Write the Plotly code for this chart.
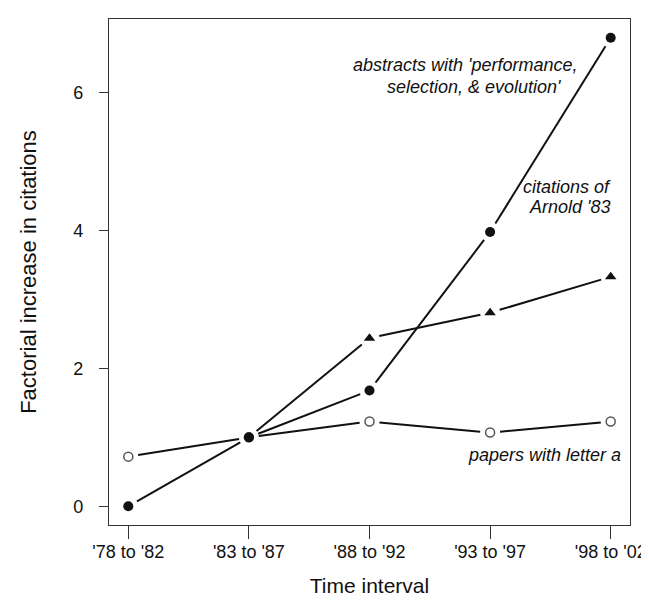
import plotly.graph_objects as go

intervals = ["'78 to '82", "'83 to '87", "'88 to '92", "'93 to '97", "'98 to '02"]
abstracts = [0.0, 1.0, 1.68, 3.98, 6.80]
arnold = [None, 1.0, 2.44, 2.81, 3.33]
letter_a = [0.72, 1.0, 1.23, 1.07, 1.23]

FONT = "Liberation Sans, Arial, sans-serif"
INK = "#111111"

W, H = 649, 602
M = dict(l=101, r=24, t=10, b=85)
XR = [-0.16, 4.16]
YR = [-0.272, 7.072]
GAP = 10  # px gap between line ends and point centres (R type="b")

xpos = list(range(len(intervals)))
sx = (W - M["l"] - M["r"]) / (XR[1] - XR[0])
sy = (H - M["t"] - M["b"]) / (YR[1] - YR[0])


def gapped(xs, ys):
    """Segments between consecutive points, trimmed by GAP px at both ends."""
    gx, gy = [], []
    for i in range(len(xs) - 1):
        if ys[i] is None or ys[i + 1] is None:
            continue
        dx = (xs[i + 1] - xs[i]) * sx
        dy = (ys[i + 1] - ys[i]) * sy
        d = (dx * dx + dy * dy) ** 0.5
        f = GAP / d
        gx += [xs[i] + (xs[i + 1] - xs[i]) * f, xs[i + 1] - (xs[i + 1] - xs[i]) * f, None]
        gy += [ys[i] + (ys[i + 1] - ys[i]) * f, ys[i + 1] - (ys[i + 1] - ys[i]) * f, None]
    return gx, gy


fig = go.Figure()
for ys in (letter_a, arnold, abstracts):
    gx, gy = gapped(xpos, ys)
    fig.add_trace(go.Scatter(x=gx, y=gy, mode="lines", line=dict(color=INK, width=2),
                             connectgaps=False, hoverinfo="skip", showlegend=False))

fig.add_trace(go.Scatter(x=xpos, y=letter_a, mode="markers", name="papers with letter a",
                         marker=dict(symbol="circle", color="white", size=9,
                                     line=dict(color="#555555", width=1.5)),
                         showlegend=False))
fig.add_trace(go.Scatter(x=xpos[2:], y=arnold[2:], mode="markers", name="citations of Arnold '83",
                         marker=dict(symbol="triangle-up", color=INK, size=10, line=dict(width=0)),
                         showlegend=False))
fig.add_trace(go.Scatter(x=xpos, y=abstracts, mode="markers",
                         name="abstracts with 'performance, selection, & evolution'",
                         marker=dict(symbol="circle", color=INK, size=10, line=dict(width=0)),
                         showlegend=False))

ann_font = dict(family=FONT, size=18, color=INK, style="italic")
annotations = [
    dict(x=2.80, y=6.41, text="abstracts with 'performance,", xanchor="center"),
    dict(x=2.87, y=6.09, text="selection, & evolution'", xanchor="center"),
    dict(x=4.02, y=4.63, text="citations of", xanchor="right"),
    dict(x=4.02, y=4.34, text="Arnold '83", xanchor="right"),
    dict(x=4.10, y=0.74, text="papers with letter a", xanchor="right"),
]
for a in annotations:
    fig.add_annotation(xref="x", yref="y", showarrow=False, yanchor="middle",
                       font=ann_font, **a)

fig.update_layout(
    width=W, height=H, margin=M,
    paper_bgcolor="white", plot_bgcolor="white",
    font=dict(family=FONT, size=18, color=INK),
)
fig.update_xaxes(
    range=XR, tickvals=xpos, ticktext=intervals,
    showline=True, mirror=True, linecolor="#333333", linewidth=1.2,
    ticks="outside", ticklen=13, tickcolor="#333333", tickwidth=1,
    showgrid=False, zeroline=False,
    tickfont=dict(size=18), ticklabelstandoff=-3,
    title=dict(text="Time interval", font=dict(size=21), standoff=17),
)
fig.update_yaxes(
    range=YR, tickvals=[0, 2, 4, 6],
    showline=True, mirror=True, linecolor="#333333", linewidth=1.2,
    ticks="outside", ticklen=9, tickcolor="#333333", tickwidth=1,
    showgrid=False, zeroline=False,
    tickfont=dict(size=18), ticklabelstandoff=12,
    title=dict(text="Factorial increase in citations", font=dict(size=22), standoff=30),
)

fig.write_html("out.html")
